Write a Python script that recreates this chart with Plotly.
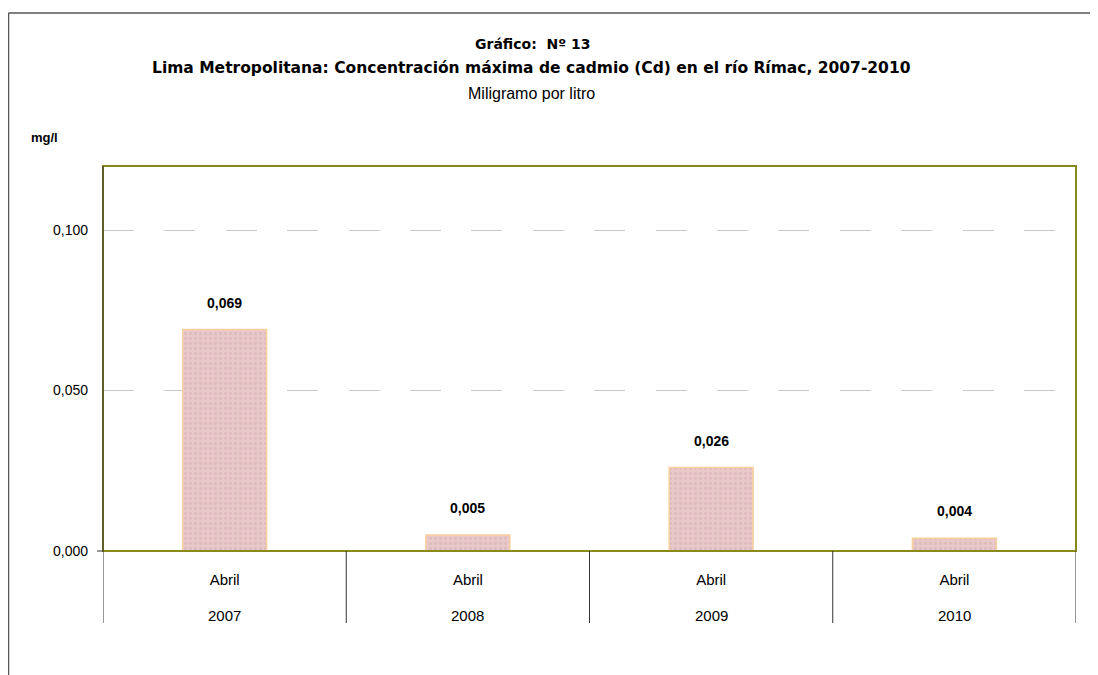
import plotly.graph_objects as go

years = ["2007", "2008", "2009", "2010"]
months = ["Abril", "Abril", "Abril", "Abril"]
values = [0.069, 0.005, 0.026, 0.004]

COLOR_BAR = "#e8c8c9"
COLOR_BAR_DOT = "#dcbabd"
COLOR_BAR_LINE = "#f9cf9c"
COLOR_FRAME = "#8a8a1a"
COLOR_GRID = "#c8c8c8"
COLOR_FONT = "#000000"
FONT_REG = "Liberation Sans, Arial"
FONT_TITLE = "DejaVu Sans, Liberation Sans"

W, H = 1098, 675
OFF = 8  # page body margin
# plot area in screen pixels
X0, X1, Y0, Y1 = 103, 1076, 166, 551
L, T = X0 - OFF, Y0 - OFF
R, B = W - (X1 - OFF), H - (Y1 - OFF)
PW, PH = X1 - X0, Y1 - Y0


def px_x(p):
    return (p - X0) / PW


def px_y(p):
    return (Y1 - p) / PH


def label(text, x, y, size, family = FONT_REG, xref = "paper"):
    fig.add_annotation(text = text, xref = xref, yref = "paper", x = x, y = y,
                       xanchor = "center", yanchor = "middle", showarrow = False,
                       font = dict(family = family, size = size, color = COLOR_FONT))


fig = go.Figure()

fig.add_trace(go.Bar(x = list(range(len(years))),
                     y = values,
                     width = 0.345,
                     marker = dict(color = COLOR_BAR,
                                   line = dict(color = COLOR_BAR_LINE, width = 1.5),
                                   pattern = dict(shape = ".", fgcolor = COLOR_BAR_DOT, bgcolor = COLOR_BAR,
                                                  size = 5, solidity = 0.25, fillmode = "replace")),
                     hoverinfo = "skip"))

# value labels above the bars
for i, v in enumerate(values):
    fig.add_annotation(text = "<b>{}</b>".format("{:.3f}".format(v).replace(".", ",")),
                       x = i, y = v, xref = "x", yref = "y",
                       xanchor = "center", yanchor = "bottom", yshift = 17, showarrow = False,
                       font = dict(family = FONT_REG, size = 14, color = COLOR_FONT))

fig.update_layout(width = W,
                  height = H,
                  margin = dict(l = L, r = R, t = T, b = B),
                  plot_bgcolor = "white",
                  paper_bgcolor = "white",
                  showlegend = False,
                  separators = ",.",
                  font = dict(family = FONT_REG, color = COLOR_FONT, size = 14))

fig.update_yaxes(range = [0, 0.12],
                 tickvals = [0, 0.05, 0.1],
                 tickformat = ".3f",
                 showgrid = True,
                 gridcolor = COLOR_GRID,
                 griddash = "31px,30.4px",
                 gridwidth = 1,
                 zeroline = False,
                 showline = False,
                 ticks = "",
                 ticklabelstandoff = 14,
                 tickfont = dict(family = FONT_REG, size = 14))

fig.update_xaxes(range = [-0.5, len(years) - 0.5],
                 tickvals = list(range(len(years))),
                 ticktext = months,
                 showgrid = False,
                 showline = False,
                 zeroline = False,
                 ticks = "",
                 ticklabelstandoff = 18,
                 tickfont = dict(family = FONT_REG, size = 15))

# plot frame: olive top/right/bottom, dark left
fig.add_shape(type = "rect", xref = "paper", yref = "paper", x0 = 0, x1 = 1, y0 = 0, y1 = 1,
              line = dict(color = COLOR_FRAME, width = 2), layer = "above")
fig.add_shape(type = "line", xref = "paper", yref = "paper", x0 = 0, x1 = 0, y0 = 0, y1 = 1,
              line = dict(color = "#333333", width = 1), layer = "above")
# small tick at zero
fig.add_shape(type = "line", xref = "paper", yref = "paper", x0 = px_x(97), x1 = 0, y0 = 0, y1 = 0,
              line = dict(color = "#333333", width = 1))

# category dividers below the axis
for i in range(len(years) + 1):
    fig.add_shape(type = "line", xref = "x", yref = "paper", x0 = i - 0.5, x1 = i - 0.5,
                  y0 = 0, y1 = px_y(623), line = dict(color = "#333333", width = 1))

# year labels
for i, yr in enumerate(years):
    label(yr, i, px_y(615), 15, xref = "x")

# outer chart border
fig.add_shape(type = "line", xref = "paper", yref = "paper", x0 = px_x(8.5), x1 = px_x(1110),
              y0 = px_y(13), y1 = px_y(13), line = dict(color = "#555555", width = 1.5))
fig.add_shape(type = "line", xref = "paper", yref = "paper", x0 = px_x(8.5), x1 = px_x(8.5),
              y0 = px_y(13), y1 = px_y(690), line = dict(color = "#555555", width = 1.5))

# titles
label("<b>Gráfico:  Nº 13</b>", px_x(532), px_y(44), 14, FONT_TITLE)
label("<b>Lima Metropolitana: Concentración máxima de cadmio (Cd) en el río Rímac, 2007-2010</b>",
      px_x(531), px_y(68), 15.5, FONT_TITLE)
label("Miligramo por litro", px_x(531), px_y(93), 16)
label("<b>mg/l</b>", px_x(44), px_y(137), 13)

fig.write_html("out.html")
